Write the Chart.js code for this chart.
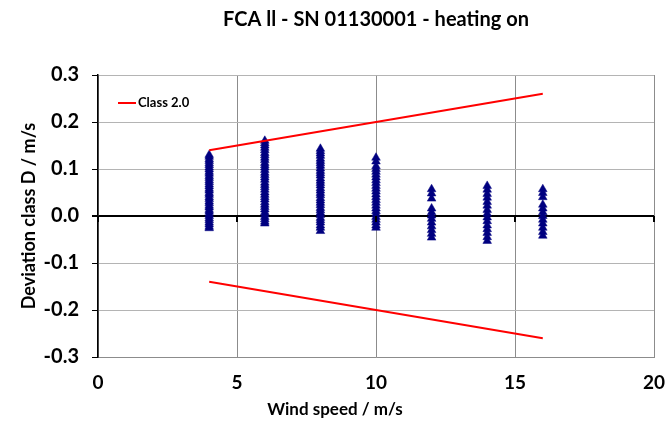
<!DOCTYPE html>
<html>
<head>
<meta charset="utf-8">
<script src="https://cdn.jsdelivr.net/npm/chart.js@4"></script>
<style>
  html, body { margin: 0; padding: 0; background: #fff; }
  #wrap { width: 672px; height: 422px; }
</style>
</head>
<body>
<div id="wrap"><canvas id="devChart" width="672" height="422"></canvas></div>
<script>
// wind speed bins (m/s)
const windBins = [4, 6, 8, 10, 12, 14, 16];

// deviation class D per bin (m/s)
const dev4 = [0.130, 0.126, 0.121, 0.117, 0.112, 0.108, 0.103, 0.099, 0.094, 0.090, 0.085, 0.081, 0.076, 0.072,
  0.067, 0.063, 0.058, 0.054, 0.049, 0.045, 0.040, 0.036, 0.031, 0.027, 0.022, 0.018, 0.013, 0.009, 0.004, 0.000,
  -0.005, -0.009, -0.014, -0.018, -0.023, -0.026];
const dev6 = [0.160, 0.155, 0.150, 0.145, 0.140, 0.134, 0.129, 0.124, 0.119, 0.113, 0.108, 0.103, 0.098, 0.092,
  0.087, 0.082, 0.077, 0.071, 0.066, 0.061, 0.056, 0.050, 0.045, 0.040, 0.035, 0.029, 0.024, 0.019, 0.014, 0.008,
  0.003, -0.002, -0.007, -0.012, -0.016];
const dev8 = [0.143, 0.138, 0.133, 0.128, 0.122, 0.117, 0.112, 0.107, 0.101, 0.096, 0.091, 0.086, 0.080, 0.075,
  0.070, 0.065, 0.059, 0.054, 0.049, 0.044, 0.038, 0.033, 0.028, 0.023, 0.017, 0.012, 0.007, 0.002, -0.004,
  -0.009, -0.014, -0.020, -0.025, -0.032];
const dev10 = [0.124, 0.116, 0.106, 0.100, 0.094, 0.088, 0.082, 0.076, 0.070, 0.064, 0.058, 0.052, 0.046, 0.040,
  0.034, 0.028, 0.022, 0.016, 0.010, 0.004, -0.002, -0.008, -0.014, -0.020, -0.025];
const dev12 = [0.057, 0.048, 0.037, 0.016, 0.008, 0.001, -0.006, -0.014, -0.022, -0.030, -0.038, -0.046];
const dev14 = [0.064, 0.056, 0.047, 0.039, 0.030, 0.022, 0.013, 0.005, -0.003, -0.011, -0.020, -0.028, -0.036,
  -0.045, -0.053];
const dev16 = [0.057, 0.049, 0.040, 0.024, 0.016, 0.008, 0.000, -0.008, -0.016, -0.025, -0.034, -0.042];

// class 2.0 limits
const classX = [4, 16];
const classUpper = [0.14, 0.26];
const classLower = [-0.14, -0.26];

const yTicks = [-0.3, -0.2, -0.1, 0.0, 0.1, 0.2, 0.3];
const xTicks = [0, 5, 10, 15, 20];

const FONT = 'Lato, "Open Sans", sans-serif';

// flatten the bins into scatter points
const devByBin = [dev4, dev6, dev8, dev10, dev12, dev14, dev16];
const measured = [];
windBins.forEach((ws, i) => {
  devByBin[i].forEach(d => measured.push({ x: ws, y: d }));
});

const upperLine = classX.map((x, i) => ({ x: x, y: classUpper[i] }));
const lowerLine = classX.map((x, i) => ({ x: x, y: classLower[i] }));

// legend box, x-axis title and small ticks on the zero line
const extras = {
  id: 'extras',
  afterDraw(chart) {
    const ctx = chart.ctx;
    const area = chart.chartArea;
    const xs = chart.scales.x;
    const ys = chart.scales.y;
    ctx.save();

    // ticks under the zero line
    const y0 = ys.getPixelForValue(0);
    ctx.strokeStyle = '#000';
    ctx.lineWidth = 2;
    xTicks.forEach(v => {
      const px = Math.round(xs.getPixelForValue(v));
      ctx.beginPath();
      ctx.moveTo(px, y0);
      ctx.lineTo(px, y0 + 6);
      ctx.stroke();
    });

    // legend
    const lx = area.left + 20;
    const ly = area.top + 28;
    ctx.strokeStyle = '#ff0000';
    ctx.lineWidth = 2;
    ctx.beginPath();
    ctx.moveTo(lx, ly);
    ctx.lineTo(lx + 18, ly);
    ctx.stroke();
    ctx.fillStyle = '#000';
    ctx.font = 'bold 13px ' + FONT;
    ctx.textAlign = 'left';
    ctx.textBaseline = 'middle';
    ctx.fillText('Class 2.0', lx + 20, ly);

    // x-axis title
    ctx.font = 'bold 17px ' + FONT;
    ctx.textAlign = 'center';
    ctx.fillText('Wind speed / m/s', 335, 410);
    ctx.restore();
  }
};

new Chart(document.getElementById('devChart'), {
  type: 'scatter',
  data: {
    datasets: [
      {
        label: 'Measured',
        data: measured,
        pointStyle: 'triangle',
        pointRadius: 5,
        pointHoverRadius: 5,
        backgroundColor: '#000080',
        borderColor: '#000080',
        borderWidth: 0.5,
        order: 2
      },
      {
        label: 'Class 2.0',
        data: upperLine,
        showLine: true,
        borderColor: '#ff0000',
        borderWidth: 2,
        pointRadius: 0,
        order: 1
      },
      {
        label: 'Class 2.0 lower',
        data: lowerLine,
        showLine: true,
        borderColor: '#ff0000',
        borderWidth: 2,
        pointRadius: 0,
        order: 1
      }
    ]
  },
  options: {
    responsive: false,
    animation: false,
    layout: { padding: { left: 0, right: 18, top: 0, bottom: 0 } },
    plugins: {
      legend: { display: false },
      tooltip: { enabled: false },
      title: {
        display: true,
        fullSize: false,
        text: 'FCA ll - SN 01130001 - heating on',
        color: '#000',
        font: { family: FONT, size: 20, weight: 'bold' },
        padding: { top: 8, bottom: 43 }
      }
    },
    scales: {
      x: {
        type: 'linear',
        min: 0,
        max: 20,
        afterBuildTicks: s => { s.ticks = xTicks.map(v => ({ value: v })); },
        afterFit: s => { s.height = 65; s.paddingLeft = 0; s.paddingRight = 0; },
        ticks: {
          color: '#000',
          padding: 14,
          font: { family: FONT, size: 19, weight: 'bold' }
        },
        grid: { color: '#8c8c8c', lineWidth: 1, drawTicks: false },
        border: { color: '#8c8c8c', width: 1 }
      },
      y: {
        type: 'linear',
        min: -0.3,
        max: 0.3,
        afterBuildTicks: s => { s.ticks = yTicks.map(v => ({ value: v })); },
        afterFit: s => { s.width = 98; },
        ticks: {
          color: '#000',
          padding: 13,
          font: { family: FONT, size: 20, weight: 'bold' },
          callback: v => v.toFixed(1)
        },
        grid: {
          color: c => (c.tick && Math.abs(c.tick.value) < 1e-9 ? '#000' : '#b4b4b4'),
          lineWidth: c => (c.tick && Math.abs(c.tick.value) < 1e-9 ? 2 : 1),
          tickColor: '#000',
          tickLength: 6
        },
        border: { color: '#000', width: 1.5 },
        title: {
          display: true,
          text: 'Deviation class D / m/s',
          color: '#000',
          font: { family: FONT, size: 18, weight: 'bold' },
          padding: { top: 18, bottom: 0 }
        }
      }
    }
  },
  plugins: [extras]
});
</script>
</body>
</html>
